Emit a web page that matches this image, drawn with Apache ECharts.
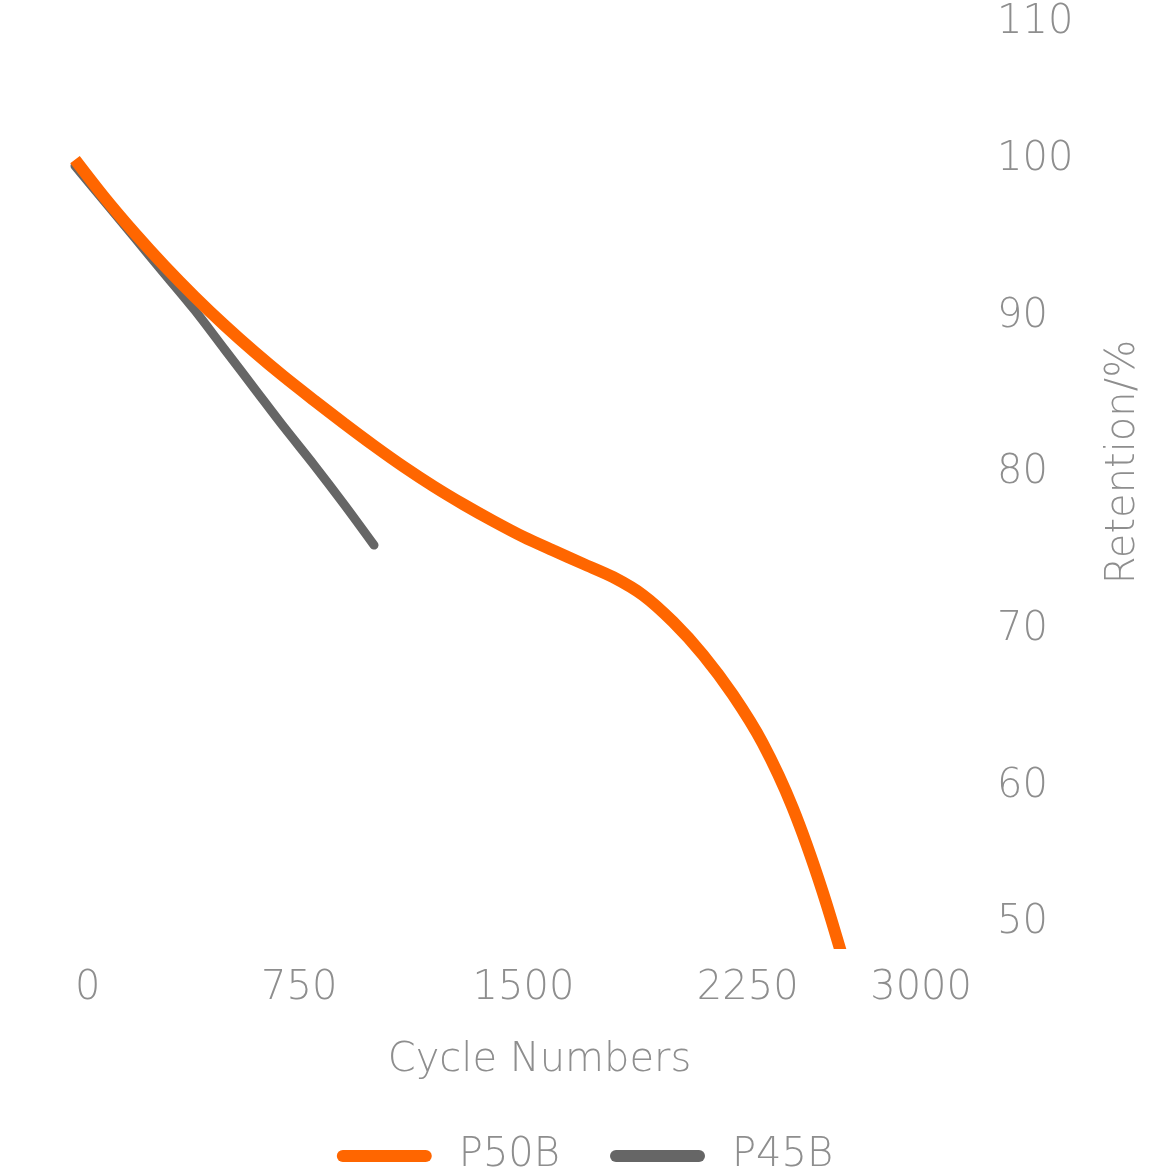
<!DOCTYPE html>
<html>
<head>
<meta charset="utf-8">
<style>
  html, body { margin: 0; padding: 0; background: #fff; }
  #chart { width: 1170px; height: 1170px; }
</style>
<script src="https://cdn.jsdelivr.net/npm/echarts@6/dist/echarts.min.js"></script>
</head>
<body>
<div id="chart"></div>
<script>
(function() {
	'use strict';

	// cycle numbers / retention
	var p50bCycles = [0, 100, 200, 300, 400, 500, 600, 700, 800, 900, 1000, 1100, 1200, 1300, 1400, 1500,
		1600, 1700, 1800, 1900, 2000, 2100, 2200, 2300, 2400, 2500, 2600];
	var p50bValues = [100, 97.55, 95.3, 93.2, 91.25, 89.43, 87.73, 86.13, 84.63, 83.16, 81.74, 80.39, 79.14, 77.99, 76.92, 75.92,
		75.05, 74.2, 73.35, 72.2, 70.5, 68.4, 65.85, 62.75, 58.65, 53.3, 46.9];

	var p45bCycles = [0, 100, 200, 300, 400, 500, 600, 700, 800, 900, 1000];
	var p45bValues = [99.6, 97.3, 95.0, 92.7, 90.4, 87.9, 85.4, 82.9, 80.5, 78.0, 75.4];

	var xTicks = [0, 750, 1500, 2250, 3000];
	var yTicks = [50, 60, 70, 80, 90, 100, 110];

	var textGrey = '#8e8e8e';
	var font = "'DejaVu Sans', Inter";
	var weight = 200;

	function pairs(xs, ys) {
		return xs.map(function(x, i) { return [x, ys[i]]; });
	}

	var option = {
		backgroundColor: '#fff',
		animation: false,
		grid: {
			left: 75,
			right: 198,
			top: 3,
			bottom: 227,
			outerBoundsMode: 'none'
		},
		legend: {
			top: 1136,
			left: 'center',
			padding: 0,
			itemGap: 50,
			itemWidth: 95,
			itemHeight: 12,
			icon: 'path://M6 0H89A6 6 0 0 1 89 12H6A6 6 0 0 1 6 0Z',
			textStyle: {
				color: textGrey,
				fontSize: 40,
				fontFamily: font,
				fontWeight: weight,
				padding: [0, 0, 0, 22]
			},
			data: ['P50B', 'P45B']
		},
		xAxis: {
			type: 'value',
			min: xTicks[0],
			max: xTicks[xTicks.length - 1],
			interval: 750,
			name: 'Cycle Numbers',
			nameLocation: 'middle',
			nameGap: 98,
			nameMoveOverlap: false,
			nameTextStyle: {
				color: textGrey,
				fontSize: 40,
				fontFamily: font,
				fontWeight: weight,
				padding: [0, 0, 0, 32]
			},
			axisLine: { show: false },
			axisTick: { show: false },
			splitLine: { show: false },
			axisLabel: {
				color: textGrey,
				fontSize: 40,
				fontFamily: font,
				fontWeight: weight,
				margin: 26,
				alignMinLabel: 'left',
				alignMaxLabel: 'right',
				formatter: function(v) { return String(v); }
			}
		},
		yAxis: {
			type: 'value',
			position: 'right',
			min: yTicks[0],
			max: yTicks[yTicks.length - 1],
			interval: 10,
			name: 'Retention/%',
			nameLocation: 'middle',
			nameGap: 132,
			nameMoveOverlap: false,
			nameTextStyle: {
				color: textGrey,
				fontSize: 40,
				fontFamily: font,
				fontWeight: weight,
				padding: [0, 0, 0, 22]
			},
			axisLine: { show: false },
			axisTick: { show: false },
			splitLine: { show: false },
			axisLabel: {
				color: textGrey,
				fontSize: 40,
				fontFamily: font,
				fontWeight: weight,
				margin: 25,
				verticalAlignMinLabel: 'bottom',
				verticalAlignMaxLabel: 'top',
				formatter: function(v) { return String(v); }
			}
		},
		series: [
			{
				name: 'P50B',
				type: 'line',
				smooth: 0.3,
				showSymbol: false,
				z: 3,
				clip: true,
				lineStyle: { width: 12, color: '#ff6600', cap: 'butt' },
				itemStyle: { color: '#ff6600' },
				data: pairs(p50bCycles, p50bValues)
			},
			{
				name: 'P45B',
				type: 'line',
				smooth: 0.3,
				showSymbol: false,
				z: 2,
				clip: true,
				lineStyle: { width: 9, color: '#666666', cap: 'round' },
				itemStyle: { color: '#666666' },
				data: pairs(p45bCycles, p45bValues)
			}
		]
	};

	var chart = echarts.init(document.getElementById('chart'));
	chart.setOption(option);
})();
</script>
</body>
</html>
